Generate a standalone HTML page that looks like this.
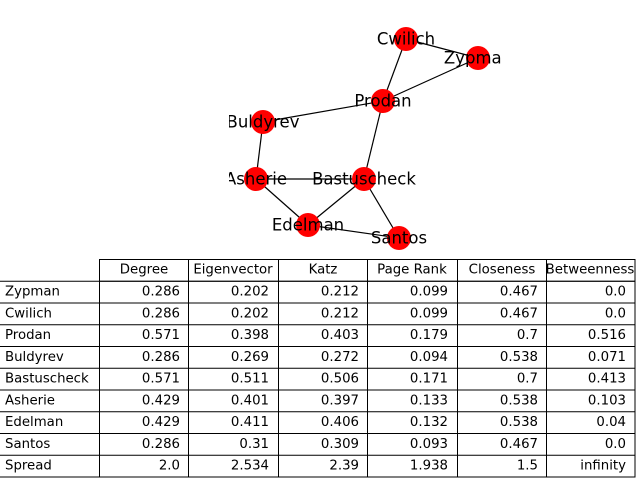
<!DOCTYPE html>
<html><head><style>body{margin:0;background:#fff}svg{display:block}</style></head><body>
<svg width="640" height="480" xmlns="http://www.w3.org/2000/svg" font-family="DejaVu Sans, Liberation Sans, sans-serif">
<defs><clipPath id="ax"><rect x="229" y="0" width="272" height="255"/></clipPath></defs>
<g clip-path="url(#ax)">
<g stroke="#000" stroke-width="1.2">
<line x1="406" y1="39" x2="478" y2="58"/><line x1="406" y1="39" x2="383" y2="101"/>
<line x1="478" y1="58" x2="383" y2="101"/><line x1="383" y1="101" x2="263" y2="122"/>
<line x1="383" y1="101" x2="364" y2="179"/><line x1="263" y1="122" x2="256" y2="179"/>
<line x1="256" y1="179" x2="364" y2="179"/><line x1="256" y1="179" x2="308" y2="225"/>
<line x1="364" y1="179" x2="308" y2="225"/><line x1="364" y1="179" x2="399" y2="238"/>
<line x1="308" y1="225" x2="399" y2="238"/>
</g>
<g fill="#f00">
<circle cx="406" cy="39" r="12"/><circle cx="478" cy="58" r="12"/><circle cx="383" cy="101" r="12"/>
<circle cx="263" cy="122" r="12"/><circle cx="256" cy="179" r="12"/><circle cx="364" cy="179" r="12"/>
<circle cx="308" cy="225" r="12"/><circle cx="399" cy="238" r="12"/>
</g>
<g font-size="16.5" text-anchor="middle" dominant-baseline="central" fill="#000">
<text x="406" y="39">Cwilich</text><text x="478" y="58">Zypman</text><text x="383" y="101">Prodan</text>
<text x="263" y="122">Buldyrev</text><text x="256" y="179">Asherie</text><text x="364" y="179">Bastuscheck</text>
<text x="308" y="225">Edelman</text><text x="399" y="238">Santos</text>
</g>
</g>
<g stroke="#000" stroke-width="1" fill="none">
<rect x="99.5" y="259.5" width="535.5" height="21.75"/>
<rect x="-1" y="281.25" width="636" height="195.75"/>
<g>
<line x1="-1" y1="303" x2="635" y2="303"/><line x1="-1" y1="324.75" x2="635" y2="324.75"/>
<line x1="-1" y1="346.5" x2="635" y2="346.5"/><line x1="-1" y1="368.25" x2="635" y2="368.25"/>
<line x1="-1" y1="390" x2="635" y2="390"/><line x1="-1" y1="411.75" x2="635" y2="411.75"/>
<line x1="-1" y1="433.5" x2="635" y2="433.5"/><line x1="-1" y1="455.25" x2="635" y2="455.25"/>
<line x1="99.5" y1="259.5" x2="99.5" y2="477"/><line x1="188.5" y1="259.5" x2="188.5" y2="477"/>
<line x1="278.5" y1="259.5" x2="278.5" y2="477"/><line x1="367.5" y1="259.5" x2="367.5" y2="477"/>
<line x1="457.5" y1="259.5" x2="457.5" y2="477"/><line x1="546.5" y1="259.5" x2="546.5" y2="477"/>
</g></g>
<g font-size="13.3" fill="#000" dominant-baseline="central">
<g text-anchor="middle">
<text x="144" y="270">Degree</text><text x="233" y="270">Eigenvector</text><text x="323" y="270">Katz</text>
<text x="412" y="270">Page Rank</text><text x="502" y="270">Closeness</text><text x="590" y="270">Betweenness</text>
</g>
<g>
<text x="5" y="292">Zypman</text><text x="5" y="314">Cwilich</text><text x="5" y="335.5">Prodan</text>
<text x="5" y="357.5">Buldyrev</text><text x="5" y="379">Bastuscheck</text><text x="5" y="401">Asherie</text>
<text x="5" y="422.5">Edelman</text><text x="5" y="444.5">Santos</text><text x="5" y="466">Spread</text>
</g>
<g text-anchor="end">
<text x="180" y="292">0.286</text><text x="269" y="292">0.202</text><text x="359" y="292">0.212</text><text x="448" y="292">0.099</text><text x="538" y="292">0.467</text><text x="626" y="292">0.0</text>
<text x="180" y="314">0.286</text><text x="269" y="314">0.202</text><text x="359" y="314">0.212</text><text x="448" y="314">0.099</text><text x="538" y="314">0.467</text><text x="626" y="314">0.0</text>
<text x="180" y="335.5">0.571</text><text x="269" y="335.5">0.398</text><text x="359" y="335.5">0.403</text><text x="448" y="335.5">0.179</text><text x="538" y="335.5">0.7</text><text x="626" y="335.5">0.516</text>
<text x="180" y="357.5">0.286</text><text x="269" y="357.5">0.269</text><text x="359" y="357.5">0.272</text><text x="448" y="357.5">0.094</text><text x="538" y="357.5">0.538</text><text x="626" y="357.5">0.071</text>
<text x="180" y="379">0.571</text><text x="269" y="379">0.511</text><text x="359" y="379">0.506</text><text x="448" y="379">0.171</text><text x="538" y="379">0.7</text><text x="626" y="379">0.413</text>
<text x="180" y="401">0.429</text><text x="269" y="401">0.401</text><text x="359" y="401">0.397</text><text x="448" y="401">0.133</text><text x="538" y="401">0.538</text><text x="626" y="401">0.103</text>
<text x="180" y="422.5">0.429</text><text x="269" y="422.5">0.411</text><text x="359" y="422.5">0.406</text><text x="448" y="422.5">0.132</text><text x="538" y="422.5">0.538</text><text x="626" y="422.5">0.04</text>
<text x="180" y="444.5">0.286</text><text x="269" y="444.5">0.31</text><text x="359" y="444.5">0.309</text><text x="448" y="444.5">0.093</text><text x="538" y="444.5">0.467</text><text x="626" y="444.5">0.0</text>
<text x="180" y="466">2.0</text><text x="269" y="466">2.534</text><text x="359" y="466">2.39</text><text x="448" y="466">1.938</text><text x="538" y="466">1.5</text><text x="626" y="466">infinity</text>
</g></g>
</svg>
</body></html>
